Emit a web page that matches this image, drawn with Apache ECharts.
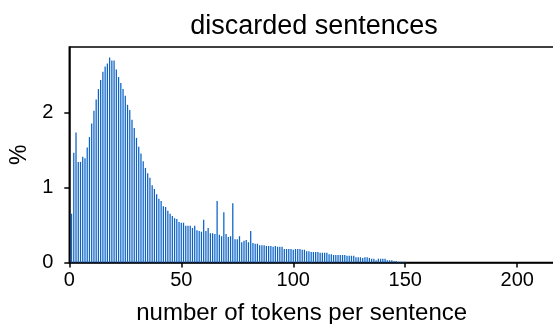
<!DOCTYPE html>
<html><head><meta charset="utf-8">
<script src="https://cdn.jsdelivr.net/npm/echarts@6/dist/echarts.min.js"></script>
<style>html,body{margin:0;padding:0;background:#fff}#c{width:553px;height:324px}</style>
</head><body><div id="c"></div>
<script>
const titleText = "discarded sentences";
const xName = "number of tokens per sentence";
const yName = "%";
const xTicks = [0, 50, 100, 150, 200];
const yTicks = [0, 1, 2];
const tokens = [];
for (let i = 1; i <= 150; i++) tokens.push(i);
const percent = [
0.65,1.46,1.73,1.34,1.34,1.41,1.39,1.53,1.67,1.85,
2.02,2.17,2.31,2.43,2.54,2.61,2.65,2.73,2.69,2.69,
2.57,2.47,2.39,2.31,2.22,2.10,2.03,1.90,1.79,1.66,
1.54,1.45,1.35,1.26,1.19,1.13,1.03,0.98,0.91,0.85,
0.82,0.75,0.74,0.69,0.65,0.62,0.59,0.58,0.54,0.53,
0.53,0.49,0.49,0.49,0.46,0.49,0.43,0.42,0.41,0.57,
0.42,0.46,0.39,0.39,0.38,0.82,0.37,0.35,0.67,0.38,
0.34,0.35,0.79,0.31,0.31,0.35,0.27,0.29,0.30,0.27,
0.42,0.26,0.25,0.25,0.23,0.23,0.23,0.22,0.22,0.22,
0.21,0.22,0.21,0.21,0.21,0.18,0.18,0.18,0.18,0.17,
0.18,0.18,0.18,0.17,0.17,0.15,0.15,0.14,0.14,0.14,
0.14,0.13,0.13,0.13,0.13,0.11,0.11,0.10,0.10,0.10,
0.10,0.10,0.10,0.09,0.09,0.09,0.09,0.07,0.07,0.07,
0.06,0.07,0.07,0.06,0.05,0.05,0.03,0.05,0.05,0.05,
0.05,0.03,0.03,0.03,0.02,0.02,0.01,0.01,0.01,0.01
];
const font = "'Liberation Sans', Arial, sans-serif";
const chart = echarts.init(document.getElementById('c'), null, {renderer: 'canvas'});
chart.setOption({
  animation: false,
  backgroundColor: '#fff',
  title: {text: titleText, left: 314, textAlign: 'center', top: 8, padding: [5, 0, 5, 0],
    textStyle: {fontFamily: font, fontSize: 27, fontWeight: 'normal', color: '#000'}},
  grid: {left: 69.3, top: 47, bottom: 61.5, right: -9, outerBoundsMode: 'none', containLabel: false,
    show: true, borderColor: '#000', borderWidth: 1.5, backgroundColor: 'transparent'},
  xAxis: {type: 'value', min: 0, max: 220,
    name: xName, nameLocation: 'middle', nameGap: 39,
    nameTextStyle: {fontFamily: font, fontSize: 24, color: '#000', padding: [0, 28, 0, 0]},
    axisLine: {show: true, lineStyle: {color: '#000', width: 1.5}},
    axisTick: {show: true, customValues: xTicks, length: 5, lineStyle: {color: '#000', width: 1.5}},
    axisLabel: {customValues: xTicks, margin: 8, fontFamily: font, fontSize: 20, color: '#000'},
    splitLine: {show: false}},
  yAxis: {type: 'value', min: 0, max: 2.87,
    name: yName, nameLocation: 'middle', nameGap: 34, nameRotate: 90,
    nameTextStyle: {fontFamily: font, fontSize: 23, color: '#000'},
    axisLine: {show: true, lineStyle: {color: '#000', width: 1.5}},
    axisTick: {show: true, customValues: yTicks, length: 5, lineStyle: {color: '#000', width: 1.5}},
    axisLabel: {customValues: yTicks, margin: 16, fontFamily: font, fontSize: 20, color: '#000'},
    splitLine: {show: false}},
  series: [{type: 'bar', barWidth: 1.25, itemStyle: {color: '#0a62c6'},
    data: tokens.map((t, i) => [t, percent[i]])}]
});
</script></body></html>
